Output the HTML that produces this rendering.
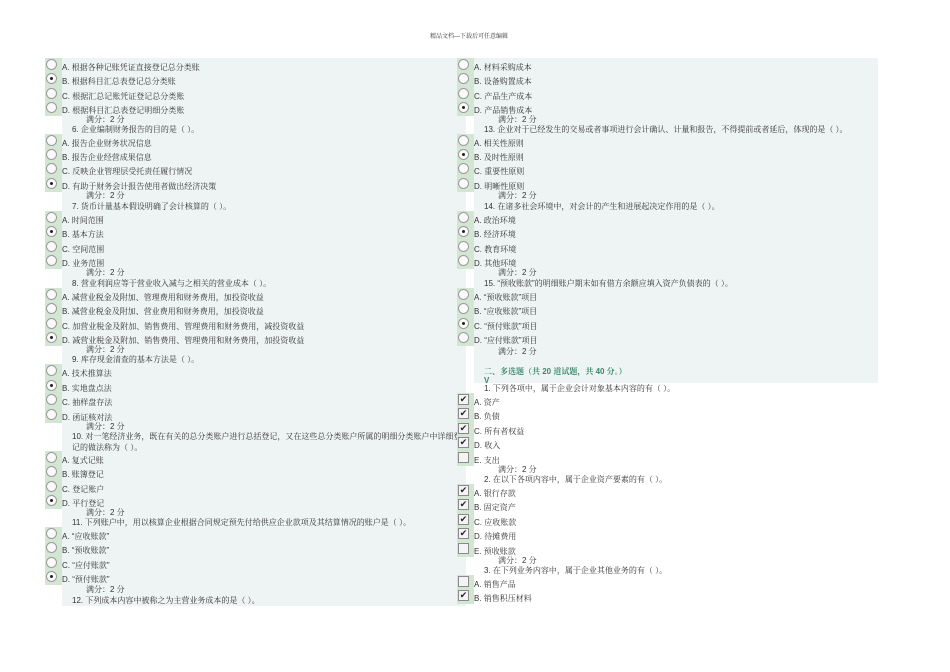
<!DOCTYPE html>
<html><head><meta charset="utf-8"><style>
body{margin:0;width:950px;height:672px;background:#fff;position:relative;overflow:hidden;font-family:"Liberation Sans","Noto Serif CJK SC","Noto Sans CJK SC",serif;color:#333}
.p{position:absolute;background:#eef3f3}
.t{position:absolute;font-size:8px;line-height:12px;white-space:nowrap}
.i{position:absolute;width:17px;height:15px;background:#d3e6d3}
.r{position:absolute;left:1px;top:1px;width:9px;height:9px;border:1px solid #9a9a9a;border-radius:50%;background:#fafafa}
.r.s::after{content:"";position:absolute;left:3px;top:3px;width:3px;height:3px;border-radius:50%;background:#222}
.c{position:absolute;left:1px;top:1px;width:9px;height:9px;border:1px solid #8a8a8a;background:#f4f4f4;font-size:9px;line-height:9px;text-align:center;color:#222}
.g{color:#3a8a6a;font-weight:bold}
</style></head><body>
<div class="t" style="left:430px;top:31px;font-size:6px">精品文档---下载后可任意编辑</div>
<div class="p" style="left:62px;top:58px;width:404px;height:548px"></div>
<div class="p" style="left:474px;top:58px;width:404px;height:325px"></div>
<div id="L"></div>
<script>
function add(x,items){var h='';items.forEach(function(it){var y=it[0],k=it[1],s=it[2];
if(k=='r'||k=='R'||k=='c'||k=='C'){h+='<div class="i" style="left:'+(x-17)+'px;top:'+(y-10)+'px">'+(k=='r'||k=='R'?'<div class="r'+(k=='R'?' s':'')+'"></div>':'<div class="c">'+(k=='C'?'✔':'')+'</div>')+'</div>';h+='<div class="t" style="left:'+x+'px;top:'+(y-6)+'px">'+s+'</div>';}
else if(k=='m'){h+='<div class="t" style="left:'+(x+24)+'px;top:'+(y-6)+'px">满分：2 分</div>';}
else{h+='<div class="t'+(k=='g'?' g':'')+'" style="left:'+(x+10)+'px;top:'+(y-6)+'px">'+s+'</div>';}});
document.getElementById('L').innerHTML+=h;}
add(62,[[68,'r','A. 根据各种记账凭证直接登记总分类账'],[82,'R','B. 根据科目汇总表登记总分类账'],[97,'r','C. 根据汇总记账凭证登记总分类账'],[111,'r','D. 根据科目汇总表登记明细分类账'],[120,'m'],[130,'q','6. 企业编制财务报告的目的是（ ）。'],
[144,'r','A. 报告企业财务状况信息'],[158,'r','B. 报告企业经营成果信息'],[172,'r','C. 反映企业管理层受托责任履行情况'],[187,'R','D. 有助于财务会计报告使用者做出经济决策'],[196,'m'],[207,'q','7. 货币计量基本假设明确了会计核算的（ ）。'],
[221,'r','A. 时间范围'],[235,'R','B. 基本方法'],[250,'r','C. 空间范围'],[264,'r','D. 业务范围'],[273,'m'],[284,'q','8. 营业利润应等于营业收入减与之相关的营业成本（ ）。'],
[298,'r','A. 减营业税金及附加、管理费用和财务费用，加投资收益'],[312,'r','B. 减营业税金及附加、营业费用和财务费用，加投资收益'],[327,'r','C. 加营业税金及附加、销售费用、管理费用和财务费用，减投资收益'],[341,'R','D. 减营业税金及附加、销售费用、管理费用和财务费用，加投资收益'],[350,'m'],[360,'q','9. 库存现金清查的基本方法是（ ）。'],
[374,'r','A. 技术推算法'],[389,'R','B. 实地盘点法'],[403,'r','C. 抽样盘存法'],[418,'r','D. 函证核对法'],[427,'m'],[437,'q','10. 对一笔经济业务，既在有关的总分类账户进行总括登记，又在这些总分类账户所属的明细分类账户中详细登'],[448,'q','记的做法称为（ ）。'],
[461,'r','A. 复式记账'],[475,'r','B. 账簿登记'],[490,'r','C. 登记账户'],[504,'R','D. 平行登记'],[513,'m'],[523,'q','11. 下列账户中，用以核算企业根据合同规定预先付给供应企业款项及其结算情况的账户是（ ）。'],
[537,'r','A. “应收账款”'],[551,'r','B. “预收账款”'],[566,'r','C. “应付账款”'],[580,'R','D. “预付账款”'],[590,'m'],[601,'q','12. 下列成本内容中被称之为主营业务成本的是（ ）。']]);
add(474,[[68,'r','A. 材料采购成本'],[82,'r','B. 设备购置成本'],[97,'r','C. 产品生产成本'],[111,'R','D. 产品销售成本'],[120,'m'],[130,'q','13. 企业对于已经发生的交易或者事项进行会计确认、计量和报告，不得提前或者延后，体现的是（ ）。'],
[144,'r','A. 相关性原则'],[158,'R','B. 及时性原则'],[172,'r','C. 重要性原则'],[187,'r','D. 明晰性原则'],[196,'m'],[207,'q','14. 在诸多社会环境中，对会计的产生和进展起决定作用的是（ ）。'],
[221,'r','A. 政治环境'],[235,'R','B. 经济环境'],[250,'r','C. 教育环境'],[264,'r','D. 其他环境'],[273,'m'],[284,'q','15. “预收账款”的明细账户期末如有借方余额应填入资产负债表的（ ）。'],
[298,'r','A. “预收账款”项目'],[312,'r','B. “应收账款”项目'],[327,'R','C. “预付账款”项目'],[341,'r','D. “应付账款”项目'],[352,'m'],[372,'g','二、多选题（共 20 道试题，共 40 分。）'],[381,'g','V'],[389,'q','1. 下列各项中，属于企业会计对象基本内容的有（ ）。'],
[403,'C','A. 资产'],[417,'C','B. 负债'],[432,'C','C. 所有者权益'],[446,'C','D. 收入'],[461,'c','E. 支出'],[470,'m'],[480,'q','2. 在以下各项内容中，属于企业资产要素的有（ ）。'],
[494,'C','A. 银行存款'],[508,'C','B. 固定资产'],[523,'C','C. 应收账款'],[537,'C','D. 待摊费用'],[552,'c','E. 预收账款'],[561,'m'],[571,'q','3. 在下列业务内容中，属于企业其他业务的有（ ）。'],
[585,'c','A. 销售产品'],[599,'C','B. 销售积压材料']]);
</script>
</body></html>
